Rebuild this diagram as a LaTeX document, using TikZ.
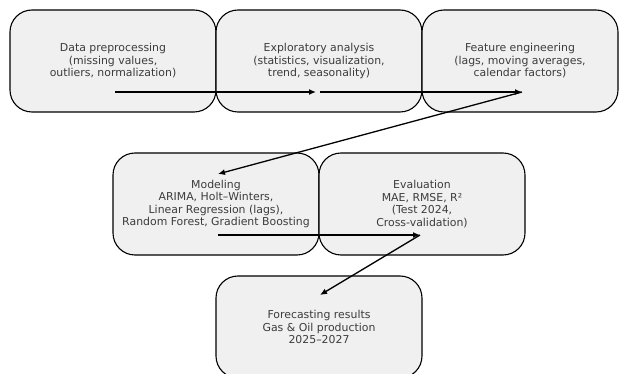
\documentclass[tikz,border=0pt]{standalone}
\usepackage{fontspec}
\setmainfont{DejaVu Sans}
\usetikzlibrary{arrows.meta,calc,positioning}
\definecolor{boxfill}{RGB}{240,240,240}
\definecolor{boxtext}{RGB}{60,60,60}

\begin{document}
\begin{tikzpicture}[x=1pt, y=-1pt,
  stage/.style={draw, line width=1.1pt, rounded corners=22pt, fill=boxfill, text=boxtext,
    minimum width=206pt, minimum height=102pt, align=center, inner sep=2pt,
    font=\fontsize{10.9}{12.5}\selectfont},
  arr/.style={-{Latex[length=7pt,width=6pt]}, line width=1.3pt}
]
\useasboundingbox (0,0) rectangle (619,374);
\node[stage] (prep) at (113,61) {Data preprocessing\\(missing values,\\outliers, normalization)};
\node[stage] (eda) at (319,61) {Exploratory analysis\\(statistics, visualization,\\trend, seasonality)};
\node[stage, minimum width=196pt] (feat) at (520,61) {Feature engineering\\(lags, moving averages,\\calendar factors)};
\node[stage] (model) at (216,204) {Modeling\\ARIMA, Holt--Winters,\\Linear Regression (lags),\\Random Forest, Gradient Boosting};
\node[stage] (eval) at (422,204) {Evaluation\\MAE, RMSE, R²\\(Test 2024,\\Cross-validation)};
\node[stage] (fcst) at (319,327) {Forecasting results\\Gas \& Oil production\\2025--2027};

\draw[arr] ([shift={(2,31)}]prep.center) -- ([shift={(-3,31)}]eda.center);
\draw[arr] ([shift={(1,31)}]eda.center) -- ([shift={(2,31)}]feat.center);
\draw[arr] ([shift={(2,31)}]feat.center) -- ([shift={(2,-30)}]model.center);
\draw[arr] ([shift={(2,31)}]model.center) -- ([shift={(-2,31)}]eval.center);
\draw[arr] ([shift={(-2,31)}]eval.center) -- ([shift={(1,-32)}]fcst.center);
\end{tikzpicture}
\end{document}
